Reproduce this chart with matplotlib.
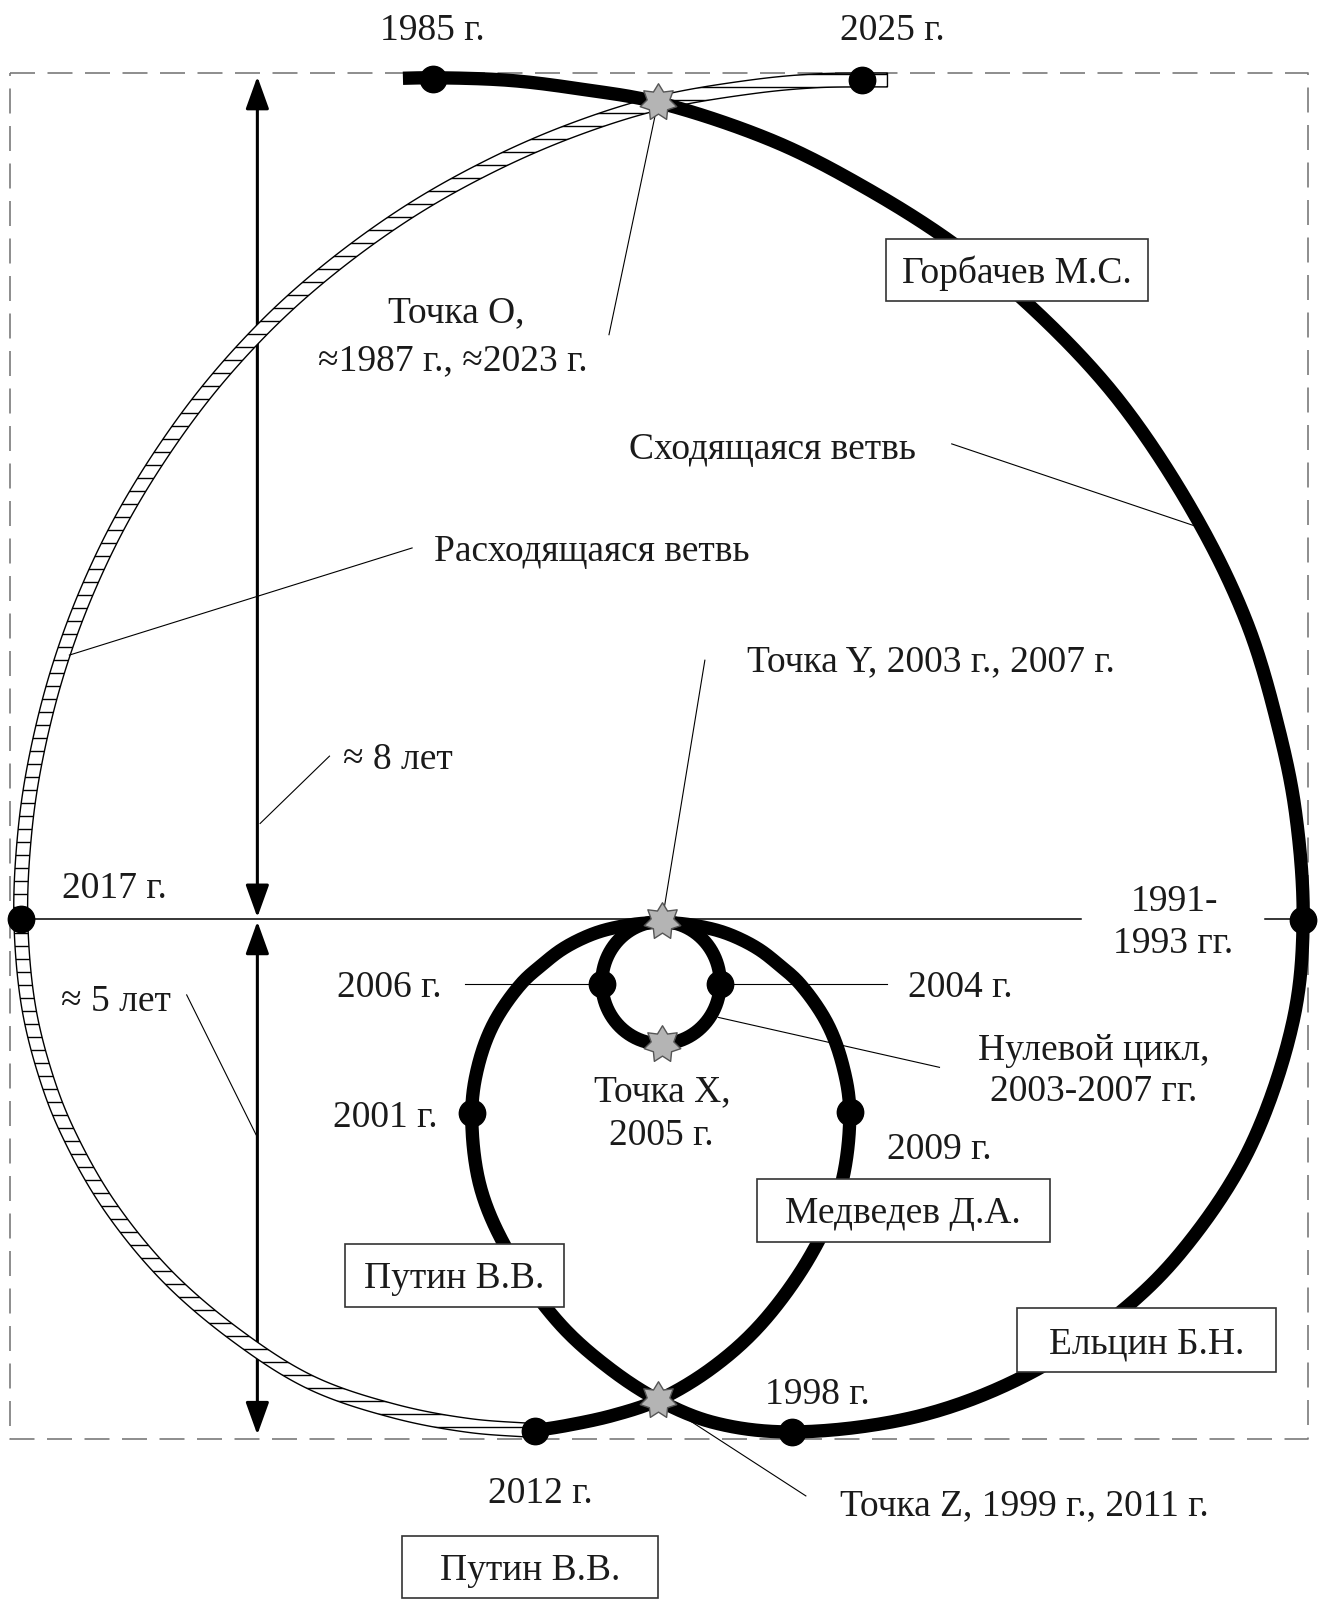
import numpy as np
import matplotlib.pyplot as plt
from matplotlib.path import Path
from matplotlib.patches import Polygon, Rectangle
from matplotlib.collections import LineCollection

plt.rcParams['font.family'] = ['Liberation Serif', 'DejaVu Serif']
plt.rcParams['lines.scale_dashes'] = False

# canvas in reference pixel units (y grows downwards)
W, H = 1295, 1568

# --- trajectory anchors ---
# converging branch: 1985 -> O -> 1991-93 -> 1998 -> Z -> 2001 -> Y
conv_x = [395, 424.8, 500, 570, 645.4, 760, 850, 935, 1010, 1095, 1172, 1223, 1253, 1270,
          1277.5, 1267.8, 1224.7, 1162, 1103, 1013, 903.6, 776.4, 699.3, 645.4, 597.5, 549,
          500, 471, 462.5, 468.6, 484, 511, 532, 550, 570, 591, 620, 648.6]
conv_y = [76.7, 76.2, 78.8, 87.4, 100.5, 139, 185, 239, 300, 390, 506, 612, 712, 796,
          902, 1000, 1126, 1222, 1282, 1344, 1387, 1403.3, 1394, 1372, 1341, 1297.6,
          1230, 1163.7, 1091, 1045, 1003, 964, 945, 931, 920, 912, 906, 903.5]

# Y -> 2009 -> Z -> 2012
loop_x = [648.6, 675, 704, 725, 745, 763, 784, 811, 826.4, 833, 824, 794.8, 746, 697.5, 645.4,
          601.2, 555.5, 524.5]
loop_y = [903.5, 906, 912, 920, 931, 945, 964, 1003, 1045, 1090, 1163.7, 1230, 1297.6, 1341,
          1372, 1387, 1397, 1402]

# zero cycle 2003-2007
zero_cx, zero_cy, zero_rx, zero_ry = 648, 963, 58, 60

# diverging branch: 2012 -> 2017 -> O -> 2025
div_x = [524.5, 460, 387, 305, 232, 163.2, 106.2, 66.7, 45.8, 28.1, 20.4, 24, 34, 55, 85, 127,
         190, 255, 320, 400, 480, 560, 645.4, 740, 800, 845, 870]
div_y = [1402, 1397, 1383, 1355, 1309, 1250, 1180, 1110, 1057, 987, 900, 819, 749, 663, 580, 495,
         400, 325, 266, 208, 163, 128, 101, 84.7, 79.2, 78.4, 78.4]

dot_x = [424.8, 844.7, 20.3, 1277.5, 589.8, 705.5, 462.5, 833, 776.4, 524.5]
dot_y = [77.8, 78.4, 900.5, 902, 964, 964, 1091, 1090, 1403, 1402]

star_x = [645.4, 648.6, 649, 645.4]
star_y = [99.7, 903, 1022.8, 1372]

frame = (9.5, 71.9, 1282, 1410)
axis_y = 901

labels = ["1985 г.", "2025 г.", "Точка О,", "≈1987 г., ≈2023 г.", "Сходящаяся ветвь",
          "Расходящаяся ветвь", "Точка Y, 2003 г., 2007 г.", "≈ 8 лет", "2017 г.", "1991-",
          "1993 гг.", "2006 г.", "2004 г.", "≈ 5 лет", "Нулевой цикл,", "2003-2007 гг.",
          "Точка X,", "2005 г.", "2001 г.", "2009 г.", "1998 г.", "2012 г.",
          "Точка Z, 1999 г., 2011 г."]
label_x = [424, 875, 447, 444, 757, 580, 913, 390, 112, 1151, 1150, 382, 941, 114, 1072, 1072,
           649, 648, 378, 921, 801, 530, 1004]
label_y = [27, 27, 303.6, 350.4, 437, 537, 645, 741, 867.6, 880.6, 921.5, 964.5, 965, 978,
           1026.4, 1066.6, 1066.6, 1110, 1092, 1123, 1363, 1460, 1472]

boxes = ["Горбачев М.С.", "Медведев Д.А.", "Путин В.В.", "Ельцин Б.Н.", "Путин В.В."]
box_l = [869, 742, 338, 997, 394]
box_t = [234, 1155, 1219, 1282, 1505]
box_r = [1125, 1029, 553, 1251, 645]
box_b = [295, 1217, 1281, 1345, 1566]

# leader lines (x0, y0, x1, y1)
leaders = [(645, 100, 597, 328), (933, 435, 1173, 516), (404, 537, 68, 642),
           (691, 647, 649, 903), (323, 741, 255, 807), (183, 975, 251, 1112),
           (456, 964.5, 590, 964.5), (705, 964.5, 870, 964.5), (704, 997, 921, 1046),
           (645, 1372, 790, 1466)]


def smooth(xs, ys, n=30):
    # centripetal catmull-rom through the anchors
    P = np.column_stack([xs, ys]).astype(float)
    P = np.vstack([2 * P[0] - P[1], P, 2 * P[-1] - P[-2]])
    out = []
    for i in range(1, len(P) - 2):
        p0, p1, p2, p3 = P[i - 1], P[i], P[i + 1], P[i + 2]
        t0 = 0.0
        t1 = t0 + np.linalg.norm(p1 - p0) ** 0.5
        t2 = t1 + np.linalg.norm(p2 - p1) ** 0.5
        t3 = t2 + np.linalg.norm(p3 - p2) ** 0.5
        t = np.linspace(t1, t2, n, endpoint=False)[:, None]
        a1 = (t1 - t) / (t1 - t0) * p0 + (t - t0) / (t1 - t0) * p1
        a2 = (t2 - t) / (t2 - t1) * p1 + (t - t1) / (t2 - t1) * p2
        a3 = (t3 - t) / (t3 - t2) * p2 + (t - t2) / (t3 - t2) * p3
        b1 = (t2 - t) / (t2 - t0) * a1 + (t - t0) / (t2 - t0) * a2
        b2 = (t3 - t) / (t3 - t1) * a2 + (t - t1) / (t3 - t1) * a3
        out.append((t2 - t) / (t2 - t1) * b1 + (t - t1) / (t2 - t1) * b2)
    out.append(P[-2][None, :])
    C = np.vstack(out)
    return C[:, 0], C[:, 1]


fig = plt.figure(figsize=(13.21, 16), dpi=100)
ax = fig.add_axes([0, 0, 1, 1])
ax.set_xlim(0, W)
ax.set_ylim(H, 0)
ax.axis('off')

# dashed frame
fl, ft, fr, fb = frame
ax.plot([fl, fr, fr, fl, fl], [ft, ft, fb, fb, ft], color='#7a7a7a', lw=1.2,
        ls=(0, (18, 9)), zorder=1)

# horizontal axis through Y, broken by the 1991-1993 label
ax.plot([20, 1060], [axis_y, axis_y], color='black', lw=1.1, zorder=1.5)
ax.plot([1240, 1277], [axis_y, axis_y], color='black', lw=1.1, zorder=1.5)

# period arrows
arrow = dict(arrowstyle='<|-|>,head_length=1.0,head_width=0.36', mutation_scale=20,
             lw=2.2, color='black', shrinkA=0, shrinkB=0)
ax.annotate('', xy=(252.3, 75), xytext=(252.3, 899), arrowprops=arrow, zorder=2)
ax.annotate('', xy=(252.3, 903), xytext=(252.3, 1406), arrowprops=arrow, zorder=2)

# diverging branch: hatched band
bx, by = smooth(div_x, div_y, 30)
tx, ty = np.gradient(bx), np.gradient(by)
nrm = np.hypot(tx, ty)
nx, ny = -ty / nrm, tx / nrm
half = 6.8
band = np.vstack([np.column_stack([bx + nx * half, by + ny * half]),
                  np.column_stack([bx - nx * half, by - ny * half])[::-1]])
band_patch = Polygon(band, closed=True, fc='white', ec='black', lw=1.0, zorder=2.2)
ax.add_patch(band_patch)
hy = np.arange(60, 1420, 12.75)
hatch = LineCollection([[(0, y), (900, y)] for y in hy], colors='black', lw=1.0, zorder=2.3)
ax.add_collection(hatch)
hatch.set_clip_path(band_patch)

# converging branch and loops
thick = dict(color='black', lw=9.6, solid_capstyle='butt', solid_joinstyle='round', zorder=3)
cx, cy = smooth(conv_x, conv_y, 30)
ax.plot(cx, cy, **thick)
lx, ly = smooth(loop_x, loop_y, 30)
ax.plot(lx, ly, **thick)
th = np.linspace(0, 2 * np.pi, 200)
ax.plot(zero_cx + zero_rx * np.cos(th), zero_cy + zero_ry * np.sin(th), **thick)

ax.plot(dot_x, dot_y, 'o', ms=19, color='black', zorder=5)

star = Path.unit_regular_star(7, 0.62)
ax.plot(star_x, star_y, ls='none', marker=star, ms=27, mfc='#b4b4b4', mec='#555555',
        mew=1.0, zorder=6)

for x0, y0, x1, y1 in leaders:
    ax.plot([x0, x1], [y0, y1], color='black', lw=0.8, zorder=4)

tcol = '#1a1a1a'
fs = 27
for s, x, y in zip(labels, label_x, label_y):
    ax.text(x, y + 12.5, s, ha='center', va='baseline', fontsize=fs, color=tcol, zorder=8)

for s, l, t, r, b in zip(boxes, box_l, box_t, box_r, box_b):
    ax.add_patch(Rectangle((l, t), r - l, b - t, fc='white', ec='#333333', lw=1.2, zorder=7))
    ax.text((l + r) / 2, (t + b) / 2 + 12.5, s, ha='center', va='baseline', fontsize=fs,
            color=tcol, zorder=8)

fig.savefig('out.png', dpi=100, facecolor='white')
